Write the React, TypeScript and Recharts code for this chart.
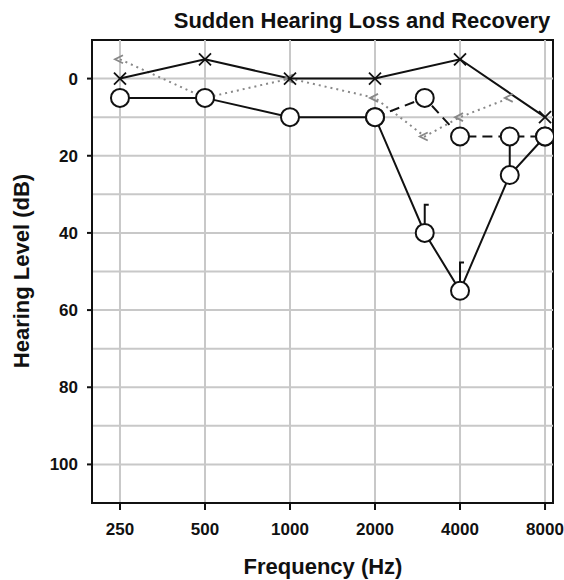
import React from "react";
import { LineChart, Line, XAxis, YAxis, ReferenceLine, ReferenceArea } from "recharts";

// Frequencies (Hz) and hearing levels (dB)
const frequencyTicks = [250, 500, 1000, 2000, 4000, 8000];
const dbTicks = [0, 20, 40, 60, 80, 100];
const gridDb = [0, 10, 20, 30, 40, 50, 60, 70, 80, 90, 100];

const leftAirFreqs = [250, 500, 1000, 2000, 4000, 8000];
const leftAirDb = [0, -5, 0, 0, -5, 10];

const leftBoneFreqs = [250, 500, 1000, 2000, 3000, 4000, 6000];
const leftBoneDb = [-5, 5, 0, 5, 15, 10, 5];

const onsetFreqs = [250, 500, 1000, 2000, 3000, 4000, 6000, 8000];
const onsetDb = [5, 5, 10, 10, 40, 55, 25, 15];

const recoveryFreqs = [2000, 3000, 4000, 6000, 8000];
const recoveryDb = [10, 5, 15, 15, 15];

const linkFreqs = [6000, 6000];
const linkDb = [15, 25];

const boneFreqs = [3000, 4000];
const boneDb = [35, 50];

const toData = (fs: number[], vs: number[]) => fs.map((f, i) => ({ f, v: vs[i] }));

const leftAir = toData(leftAirFreqs, leftAirDb);
const leftBone = toData(leftBoneFreqs, leftBoneDb);
const onset = toData(onsetFreqs, onsetDb);
const recovery = toData(recoveryFreqs, recoveryDb);
const link = toData(linkFreqs, linkDb);
const bone = toData(boneFreqs, boneDb);

const FONT = "'Liberation Sans', Arial, sans-serif";

const XMark = (p: any) => {
  const { cx, cy } = p;
  if (cx == null || cy == null) return <g key={p.index} />;
  const s = 6;
  return (
    <g key={"x" + p.index}>
      <line x1={cx - s} y1={cy - s} x2={cx + s} y2={cy + s} stroke="#111" strokeWidth={1.8} />
      <line x1={cx - s} y1={cy + s} x2={cx + s} y2={cy - s} stroke="#111" strokeWidth={1.8} />
    </g>
  );
};

const LtMark = (p: any) => {
  const { cx, cy } = p;
  if (cx == null || cy == null) return <g key={p.index} />;
  return (
    <path
      key={"lt" + p.index}
      d={`M${cx + 3},${cy - 4} L${cx - 5},${cy} L${cx + 3},${cy + 4}`}
      fill="none"
      stroke="#888"
      strokeWidth={1.8}
    />
  );
};

const OMark = (p: any) => {
  const { cx, cy } = p;
  if (cx == null || cy == null) return <g key={p.index} />;
  return <circle key={"o" + p.index} cx={cx} cy={cy} r={9} fill="#fff" stroke="#111" strokeWidth={2} />;
};

const BracketMark = (p: any) => {
  const { cx, cy } = p;
  if (cx == null || cy == null) return <g key={p.index} />;
  return (
    <path
      key={"b" + p.index}
      d={`M${cx},${cy + 10} L${cx},${cy - 9} L${cx + 4},${cy - 9}`}
      fill="none"
      stroke="#111"
      strokeWidth={2}
    />
  );
};

const tickStyle = { fontFamily: FONT, fontSize: 17, fontWeight: 700, fill: "#111" };

export default function App() {
  return (
    <div style={{ position: "absolute", left: 0, top: 0, width: 564, height: 580, background: "#fff" }}>
      <LineChart
        width={564}
        height={580}
        margin={{ top: 40, right: 11, bottom: 37, left: 32 }}
      >
        <XAxis
          dataKey="f"
          type="number"
          scale="log"
          domain={[199, 8537]}
          allowDataOverflow
          ticks={frequencyTicks}
          height={40}
          tick={tickStyle}
          tickSize={7}
          tickMargin={13}
          axisLine={{ stroke: "#111", strokeWidth: 2 }}
          tickLine={{ stroke: "#111", strokeWidth: 2 }}
        />
        <YAxis
          dataKey="v"
          type="number"
          domain={[-10, 110]}
          reversed
          allowDataOverflow
          ticks={dbTicks}
          width={60}
          tick={tickStyle}
          tickSize={5}
          tickMargin={9}
          axisLine={{ stroke: "#111", strokeWidth: 2 }}
          tickLine={{ stroke: "#111", strokeWidth: 2 }}
        />
        {gridDb.map((d) => (
          <ReferenceLine key={"h" + d} y={d} stroke="#c8c8c8" strokeWidth={2} />
        ))}
        {frequencyTicks.map((f) => (
          <ReferenceLine key={"v" + f} x={f} stroke="#c8c8c8" strokeWidth={2} />
        ))}
        <ReferenceArea
          x1={199}
          x2={8537}
          y1={-10}
          y2={110}
          fill="none"
          fillOpacity={0}
          stroke="#111"
          strokeWidth={2}
          ifOverflow="visible"
        />
        <Line
          data={leftBone}
          dataKey="v"
          stroke="#888"
          strokeWidth={2}
          strokeDasharray="2 4"
          dot={LtMark}
          isAnimationActive={false}
        />
        <Line
          data={leftAir}
          dataKey="v"
          stroke="#111"
          strokeWidth={2}
          dot={XMark}
          isAnimationActive={false}
        />
        <Line
          data={link}
          dataKey="v"
          stroke="#111"
          strokeWidth={2}
          dot={false}
          isAnimationActive={false}
        />
        <Line
          data={recovery}
          dataKey="v"
          stroke="#111"
          strokeWidth={2}
          strokeDasharray="10 6"
          dot={OMark}
          isAnimationActive={false}
        />
        <Line
          data={onset}
          dataKey="v"
          stroke="#111"
          strokeWidth={2}
          dot={OMark}
          isAnimationActive={false}
        />
        <Line
          data={bone}
          dataKey="v"
          stroke="none"
          strokeWidth={0}
          dot={BracketMark}
          isAnimationActive={false}
        />
      </LineChart>
      <svg
        width={564}
        height={580}
        style={{ position: "absolute", left: 0, top: 0, pointerEvents: "none" }}
      >
        <text x={362} y={28} textAnchor="middle" fontFamily={FONT} fontSize={22} fontWeight={700} fill="#111">
          Sudden Hearing Loss and Recovery
        </text>
        <text x={323} y={574} textAnchor="middle" fontFamily={FONT} fontSize={22} fontWeight={700} fill="#111">
          Frequency (Hz)
        </text>
        <text
          x={29}
          y={271}
          transform="rotate(-90, 29, 271)"
          textAnchor="middle"
          fontFamily={FONT}
          fontSize={22}
          fontWeight={700}
          fill="#111"
        >
          Hearing Level (dB)
        </text>
      </svg>
    </div>
  );
}
